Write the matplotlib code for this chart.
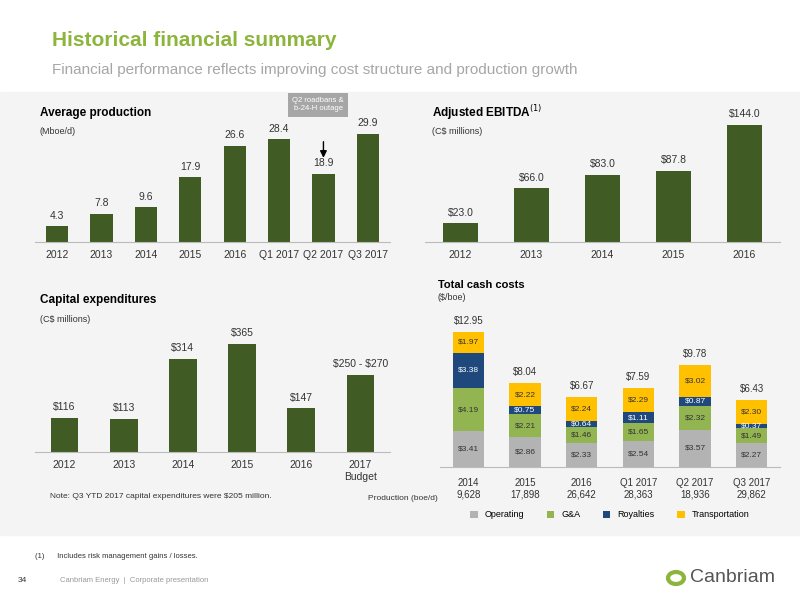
import matplotlib.pyplot as plt
from matplotlib.patches import Rectangle

plt.rcParams['font.family'] = ['Liberation Sans Narrow', 'Liberation Sans', 'DejaVu Sans']

prod_cats = ['2012', '2013', '2014', '2015', '2016', 'Q1 2017', 'Q2 2017', 'Q3 2017']
prod_vals = [4.3, 7.8, 9.6, 17.9, 26.6, 28.4, 18.9, 29.9]

ebitda_cats = ['2012', '2013', '2014', '2015', '2016']
ebitda_vals = [23.0, 66.0, 83.0, 87.8, 144.0]

capex_cats = ['2012', '2013', '2014', '2015', '2016', '2017\nBudget']
capex_vals = [116, 113, 314, 365, 147, 260]
capex_labels = [r'\$116', r'\$113', r'\$314', r'\$365', r'\$147', r'\$250 - \$270']

cash_cats = ['2014', '2015', '2016', 'Q1 2017', 'Q2 2017', 'Q3 2017']
cash_prod = ['9,628', '17,898', '26,642', '28,363', '18,936', '29,862']
operating = [3.41, 2.86, 2.33, 2.54, 3.57, 2.27]
g_and_a = [4.19, 2.21, 1.46, 1.65, 2.32, 1.49]
royalties = [3.38, 0.75, 0.64, 1.11, 0.87, 0.37]
transport = [1.97, 2.22, 2.24, 2.29, 3.02, 2.30]
cash_totals = [12.95, 8.04, 6.67, 7.59, 9.78, 6.43]

GREEN = '#405c24'
cash_series = [('Operating', operating, '#b3b3b3', '#333333'),
               ('G&A', g_and_a, '#92b552', '#333333'),
               ('Royalties', royalties, '#1f497d', 'white'),
               ('Transportation', transport, '#ffc000', '#333333')]

fig = plt.figure(figsize=(8, 6), dpi=100)
W, H = 800, 600


def px_axes(x0, y_top, x1, y_base):
    return fig.add_axes([x0 / W, 1 - y_base / H, (x1 - x0) / W, (y_base - y_top) / H])


# background panel
fig.patches.append(Rectangle((0, 1 - 535 / H), 1, (535 - 92) / H,
                             transform=fig.transFigure, color='#f4f4f4', zorder=-10))

fig.text(52 / W, 1 - 40 / H, 'Historical financial summary', color='#8cb53c',
         fontsize=15, fontweight='bold', va='center')
fig.text(52 / W, 1 - 70 / H, 'Financial performance reflects improving cost structure and production growth',
         color='#a6a6a6', fontsize=11, va='center')


def style(ax):
    ax.set_facecolor('none')
    for s in ['top', 'right', 'left']:
        ax.spines[s].set_visible(False)
    ax.spines['bottom'].set_color('#bbbbbb')
    ax.set_yticks([])
    ax.tick_params(axis='x', length=0, labelsize=7.5, colors='#333333', pad=6)


# Average production
ax = px_axes(35, 110, 390, 242)
x = range(len(prod_cats))
ax.bar(x, prod_vals, width=0.5, color=GREEN)
for i, v in enumerate(prod_vals):
    ax.text(i, v + 1.5, f'{v:.1f}', ha='center', va='bottom', fontsize=7.5, color='#333333')
ax.set_xticks(list(x), prod_cats)
ax.set_ylim(0, 36.5)
ax.set_xlim(-0.5, len(prod_cats) - 0.5)
style(ax)
fig.text(40 / W, 1 - 113 / H, 'Average production', fontsize=8.5, fontweight='bold', va='center')
fig.text(40 / W, 1 - 132 / H, '(Mboe/d)', fontsize=6.5, va='center', color='#333333')
fig.text(318 / W, 1 - 105 / H, 'Q2 roadbans &\nb-24-H outage', fontsize=5.5, color='white',
         ha='center', va='center', bbox=dict(fc='#a6a6a6', ec='none', pad=3))
ax.annotate('', xy=(6, 22.5), xytext=(6, 28.5),
            arrowprops=dict(arrowstyle='-|>', color='black', lw=1))

# Adjusted EBITDA
ax = px_axes(425, 110, 780, 242)
x = range(len(ebitda_cats))
ax.bar(x, ebitda_vals, width=0.5, color=GREEN)
for i, v in enumerate(ebitda_vals):
    ax.text(i, v + 7, f'\\${v:.1f}', ha='center', va='bottom', fontsize=7.5, color='#333333')
ax.set_xticks(list(x), ebitda_cats)
ax.set_ylim(0, 162.5)
ax.set_xlim(-0.5, len(ebitda_cats) - 0.5)
style(ax)
fig.text(432 / W, 1 - 113 / H, r'Adjusted EBITDA$^{(1)}$', fontsize=8.5, fontweight='bold', va='center')
fig.text(432 / W, 1 - 132 / H, r'(C\$ millions)', fontsize=6.5, va='center', color='#333333')

# Capital expenditures
ax = px_axes(35, 320, 390, 452)
x = range(len(capex_cats))
ax.bar(x, capex_vals, width=0.47, color=GREEN)
for i, (v, lab) in enumerate(zip(capex_vals, capex_labels)):
    ax.text(i, v + 20, lab, ha='center', va='bottom', fontsize=7.5, color='#333333')
ax.set_xticks(list(x), capex_cats)
ax.set_ylim(0, 446)
ax.set_xlim(-0.5, len(capex_cats) - 0.5)
style(ax)
fig.text(40 / W, 1 - 300 / H, 'Capital expenditures', fontsize=8.5, fontweight='bold', va='center')
fig.text(40 / W, 1 - 320 / H, r'(C\$ millions)', fontsize=6.5, va='center', color='#333333')
fig.text(50 / W, 1 - 497 / H, r'Note: Q3 YTD 2017 capital expenditures were \$205 million.',
         fontsize=6, va='center', color='#333333')

# Total cash costs
ax = px_axes(440, 320, 780, 467)
x = list(range(len(cash_cats)))
bottom = [0.0] * len(cash_cats)
for name, vals, col, tcol in cash_series:
    ax.bar(x, vals, bottom=bottom, width=0.55, color=col, label=name)
    for i, v in enumerate(vals):
        ax.text(i, bottom[i] + v / 2, f'\\${v:.2f}', ha='center', va='center', fontsize=6, color=tcol)
    bottom = [b + v for b, v in zip(bottom, vals)]
for i, t in enumerate(cash_totals):
    ax.text(i, t + 0.6, f'\\${t:.2f}', ha='center', va='bottom', fontsize=7, color='#333333')
ax.set_xticks(x, [f'{c}\n{p}' for c, p in zip(cash_cats, cash_prod)])
ax.set_ylim(0, 14.1)
ax.set_xlim(-0.5, len(cash_cats) - 0.5)
style(ax)
ax.tick_params(axis='x', labelsize=7, pad=8)
fig.text(438 / W, 1 - 498 / H, 'Production (boe/d)', fontsize=6, ha='right', va='center', color='#333333')
ax.legend(loc='upper center', bbox_to_anchor=(0.5, -0.24), ncol=4, frameon=False, fontsize=6.5,
          handlelength=0.8, handleheight=0.8, columnspacing=2.5)
fig.text(438 / W, 1 - 285 / H, 'Total cash costs', fontsize=8, fontweight='bold', va='center')
fig.text(438 / W, 1 - 298 / H, r'(\$/boe)', fontsize=6.5, va='center', color='#333333')

# footer
fig.text(35 / W, 1 - 556 / H, '(1)      Includes risk management gains / losses.', fontsize=5.5, va='center', color='#333333')
fig.text(18 / W, 1 - 580 / H, '34', fontsize=6, va='center', color='#333333')
fig.text(60 / W, 1 - 580 / H, 'Canbriam Energy  |  Corporate presentation', fontsize=5.5, va='center', color='#999999')
fig.text(690 / W, 1 - 578 / H, 'Canbriam', fontsize=14, va='center', color='#555555')
fig.patches.append(plt.Circle((676 / W, 1 - 578 / H), 8 / W, transform=fig.transFigure,
                              fill=False, ec='#8cb53c', lw=3))

fig.savefig('out.png', dpi=100)
